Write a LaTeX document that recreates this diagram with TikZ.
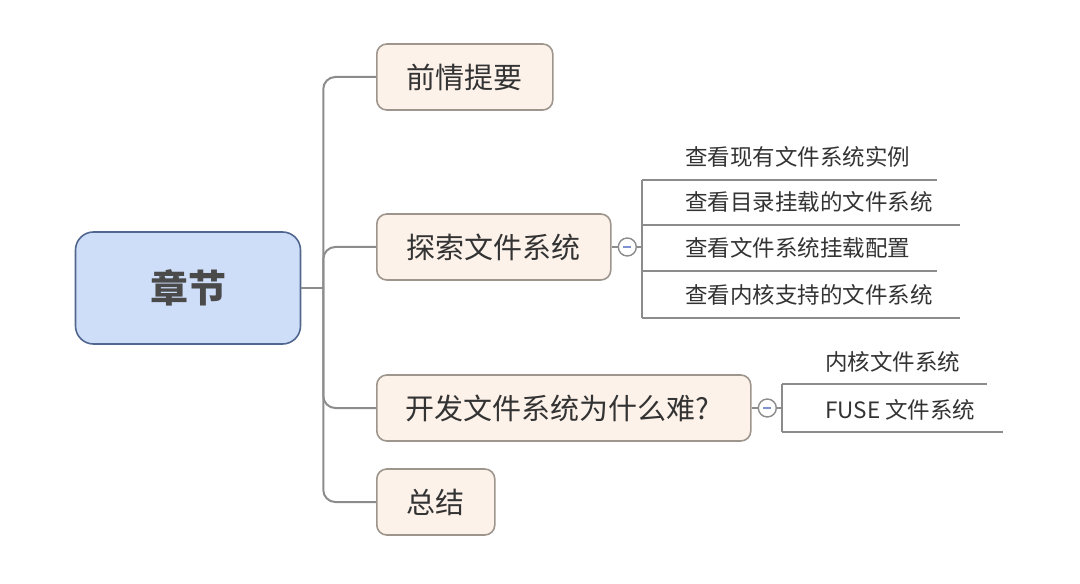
\documentclass[tikz,border=0pt]{standalone}
\usepackage{fontspec}
\setmainfont{Noto Sans CJK SC}
\usetikzlibrary{positioning}

\definecolor{rootfill}{HTML}{CEDDF8}
\definecolor{rootline}{HTML}{52678F}
\definecolor{rootink}{HTML}{4A4A4A}
\definecolor{topicfill}{HTML}{FCF2EA}
\definecolor{topicline}{HTML}{9E958D}
\definecolor{wire}{HTML}{8C8C8C}
\definecolor{ink}{HTML}{333333}
\definecolor{minus}{HTML}{7F93D2}

\begin{document}
\begin{tikzpicture}[x=1bp, y=-1bp,
	root/.style={draw=rootline, fill=rootfill, line width=1.6bp, rounded corners=18bp, minimum width=225bp, minimum height=112bp, text=rootink, font=\fontsize{38bp}{44bp}\selectfont\bfseries},
	topic/.style={draw=topicline, fill=topicfill, line width=1.6bp, rounded corners=10bp, minimum height=66bp, inner xsep=30bp, anchor=west, text=ink, font=\fontsize{29bp}{34bp}\selectfont},
	leaf/.style={anchor=base west, inner sep=0pt, text=ink, font=\fontsize{22.5bp}{27bp}\selectfont},
	fold/.style={circle, draw=wire, fill=white, line width=1.4bp, minimum size=18bp, inner sep=0pt,
		path picture={\draw[minus, line width=1.6bp] ([xshift=-4bp]path picture bounding box.center) -- ([xshift=4bp]path picture bounding box.center);}},
	branch/.style={draw=wire, line width=2bp, rounded corners=12bp},
	twig/.style={draw=wire, line width=1.6bp}]
		\useasboundingbox (0,0) rectangle (1080,584);

		\node[root] (root) at (188,288) {章节};
		\node[topic] (c1) at (376,77) {前情提要};
		\node[topic] (c2) at (376,247) {探索文件系统};
		\node[topic, inner xsep=29bp, text width=316bp] (c3) at (376,408) {开发文件系统为什么难?};
		\node[topic] (c4) at (376,502) {总结};

		\coordinate[right=22bp of root.east] (hub);
		\draw[branch] (root.east) -- (hub);
		\foreach \c in {c1,c2,c3,c4}
			\draw[branch] (hub) |- (\c.west);

		\node[fold, right=6bp of c2] (f2) {};
		\node[fold, right=6bp of c3] (f3) {};
		\coordinate[right=5bp of f2.east] (k2);
		\coordinate[right=5bp of f3.east] (k3);
		\draw[twig] (c2.east) -- (f2.west);
		\draw[twig] (f2.east) -- (k2);
		\draw[twig] (c3.east) -- (f3.west);
		\draw[twig] (f3.east) -- (k3);

		% leaves under each fold
		\foreach \n/\k/\y/\t in {s1/k2/180/查看现有文件系统实例, s2/k2/225/查看目录挂载的文件系统,
				s3/k2/271/查看文件系统挂载配置, s4/k2/318/查看内核支持的文件系统,
				t1/k3/384/内核文件系统, t2/k3/432/FUSE 文件系统} {
			\coordinate (\n-in) at (\k |- 0,\y);
			\node[leaf] (\n) at ([xshift=43bp, yshift=14bp]\n-in) {\t};
			\draw[twig] (\n-in) -- ([xshift=27bp]\n-in -| \n.east);
		}
		\draw[twig] (s1-in) -- (s4-in);
		\draw[twig] (t1-in) -- (t2-in);
	\end{tikzpicture}
\end{document}
